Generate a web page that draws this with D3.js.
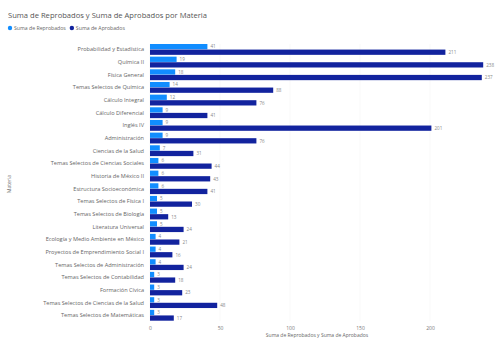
<!DOCTYPE html>
<html><head><meta charset="utf-8">
<script src="https://cdn.jsdelivr.net/npm/d3@7"></script>
<style>body{margin:0;background:#fff}svg{display:block}text{font-family:"Segoe UI","Open Sans","Noto Sans",sans-serif}</style>
</head><body><svg id="c" width="495" height="339"></svg>
<script>
const categories = ["Probabilidad y Estadística","Química II","Física General","Temas Selectos de Química","Cálculo Integral","Cálculo Diferencial","Inglés IV","Administración","Ciencias de la Salud","Temas Selectos de Ciencias Sociales","Historia de México II","Estructura Socioeconómica","Temas Selectos de Física I","Temas Selectos de Biología","Literatura Universal","Ecología y Medio Ambiente en México","Proyectos de Emprendimiento Social I","Temas Selectos de Administración","Temas Selectos de Contabilidad","Formación Cívica","Temas Selectos de Ciencias de la Salud","Temas Selectos de Matemáticas"];
const reprobados = [41,19,18,14,12,9,9,9,7,6,6,6,5,5,5,4,4,4,3,3,3,3];
const aprobados = [211,238,237,88,76,41,201,76,31,44,43,41,30,13,24,21,16,24,18,23,48,17];
const seriesNames = ["Suma de Reprobados","Suma de Aprobados"];
const xTicks = [0,50,100,150,200];
const colors = ["#118DFF","#12239E"];

const svg = d3.select("#c");
const x = d3.scaleLinear().domain([0,200]).range([150,430]);
const y = d3.scaleBand().domain(categories).range([44,321]).paddingInner(0.12);
const sub = d3.scaleBand().domain([0,1]).range([0,y.bandwidth()]);

svg.append("text").attr("x",8).attr("y",18).attr("font-size",7.6).attr("fill","#555")
  .text("Suma de Reprobados y Suma de Aprobados por Materia");

const leg = svg.append("g");
let lx = 10;
seriesNames.forEach((n,i)=>{
  leg.append("circle").attr("cx",lx).attr("cy",28).attr("r",2.2).attr("fill",colors[i]);
  const t = leg.append("text").attr("x",lx+4).attr("y",30).attr("font-size",5.2).attr("fill","#666").text(n);
  lx += t.node().getComputedTextLength()+10;
});

svg.append("g").selectAll("line").data(xTicks).join("line")
  .attr("x1",d=>x(d)).attr("x2",d=>x(d)).attr("y1",44).attr("y2",321)
  .attr("stroke","#f0f0f0").attr("stroke-width",0.5);

const rows = svg.append("g").selectAll("g").data(categories).join("g")
  .attr("transform",d=>`translate(0,${y(d)})`);
[reprobados,aprobados].forEach((vals,s)=>{
  rows.append("rect").attr("x",x(0)).attr("y",sub(s)).attr("height",sub.bandwidth()-0.3)
    .attr("width",(d,i)=>x(vals[i])-x(0)).attr("fill",colors[s]);
  rows.append("text").attr("x",(d,i)=>x(vals[i])+3).attr("y",sub(s)+sub.bandwidth()/2+1.6)
    .attr("font-size",4.6).attr("fill","#888").text((d,i)=>vals[i]);
});

const ya = svg.append("g").attr("transform","translate(147,0)")
  .call(d3.axisLeft(y).tickSize(0).tickPadding(3));
ya.select(".domain").remove();
ya.selectAll("text").attr("font-size",5.6).attr("fill","#666").style("font-family",null);

const xa = svg.append("g").attr("transform","translate(0,323)")
  .call(d3.axisBottom(x).tickValues(xTicks).tickSize(0).tickPadding(3));
xa.select(".domain").remove();
xa.selectAll("text").attr("font-size",5).attr("fill","#777").style("font-family",null);

svg.append("text").attr("x",317).attr("y",337).attr("text-anchor","middle").attr("font-size",5).attr("fill","#666")
  .text("Suma de Reprobados y Suma de Aprobados");
svg.append("text").attr("transform","translate(11,184) rotate(-90)").attr("text-anchor","middle")
  .attr("font-size",5).attr("fill","#666").text("Materia");
</script></body></html>
